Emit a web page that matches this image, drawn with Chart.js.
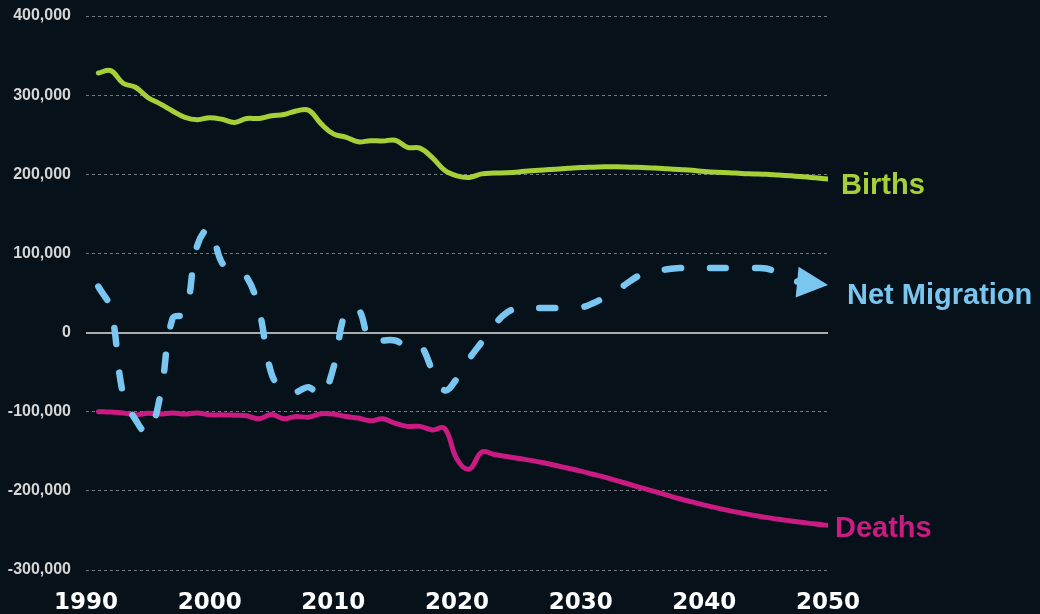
<!DOCTYPE html>
<html>
<head>
<meta charset="utf-8">
<title>Births, Deaths and Net Migration, 1991–2050</title>
<script src="https://cdn.jsdelivr.net/npm/chart.js@4.4.1/dist/chart.umd.min.js"></script>
<style>
  html, body { margin: 0; padding: 0; background: #07111a; }
  canvas { display: block; }
</style>
</head>
<body>
<canvas id="chart" width="1040" height="614"></canvas>
<script>
// Annual series, 1991–2050 (projections from the early 2020s onward)
const years = [
  1991, 1992, 1993, 1994, 1995, 1996, 1997, 1998, 1999, 2000,
  2001, 2002, 2003, 2004, 2005, 2006, 2007, 2008, 2009, 2010,
  2011, 2012, 2013, 2014, 2015, 2016, 2017, 2018, 2019, 2020,
  2021, 2022, 2023, 2024, 2025, 2026, 2027, 2028, 2029, 2030,
  2031, 2032, 2033, 2034, 2035, 2036, 2037, 2038, 2039, 2040,
  2041, 2042, 2043, 2044, 2045, 2046, 2047, 2048, 2049, 2050
];

const births = [
  328000, 331000, 315000, 310000, 297000, 289000, 280000, 272000, 269000, 271500,
  269500, 265500, 270500, 270500, 274000, 275500, 280000, 281000, 264000, 251000,
  247000, 241000, 242500, 242000, 243000, 234000, 233000, 221000, 205000, 198000,
  196000, 200500, 201500, 202000, 203000, 204500, 205500, 206500, 207500, 208500,
  209000, 209500, 209500, 209000, 208500, 208000, 207000, 206000, 205000, 203500,
  202500, 202000, 201000, 200500, 200000, 199000, 198000, 197000, 195500, 194000
];

const deaths = [
  -100000, -100500, -101500, -104000, -102000, -103000, -101500, -103000, -101500, -104000,
  -104000, -104500, -105000, -109000, -103500, -109000, -106000, -107000, -102500, -103000,
  -106000, -108000, -111500, -109000, -114500, -118500, -118500, -123000, -121000, -160000,
  -172500, -151000, -154000, -156500, -159000, -161500, -164500, -168000, -171500, -175000,
  -179000, -183000, -187500, -192000, -196500, -201000, -205500, -210000, -214000, -218000,
  -221500, -225000, -228000, -231000, -233500, -236000, -238000, -240000, -242000, -243500
];

const netMigration = [
  58000, 30000, -78000, -110000, -127000, -80000, 18000, 24000, 110000, 131000,
  88000, 78000, 70000, 28000, -52000, -73000, -75000, -69000, -80000, -45000,
  26000, 30000, -12000, -10000, -10000, -18000, -16000, -47000, -73000, -58000,
  -33000, -12000, 9000, 25000, 31000, 31000, 31000, 31000, 31000, 31500,
  37000, 45000, 54000, 65000, 74000, 77000, 80000, 81500, 81500, 81500,
  81500, 81500, 81500, 81500, 81000, 75000, 67000, 63000, 61000, 60000
];

const xTicks = [1990, 2000, 2010, 2020, 2030, 2040, 2050];
const yTicks = [-300000, -200000, -100000, 0, 100000, 200000, 300000, 400000];

const seriesNames = { migration: 'Net Migration', births: 'Births', deaths: 'Deaths' };

const COLORS = {
  bg: '#07111a',
  births: '#a6cf38',
  migration: '#79c6f1',
  deaths: '#c91b82',
  grid: '#727a80',
  zero: '#a9abad',
  yTick: '#d6d6d6',
  xTick: '#ffffff'
};

const toPoints = vals => years.map((yr, i) => ({ x: yr, y: vals[i] }));
const lastIdx = years.length - 1;

// Fill the canvas background
const backgroundPlugin = {
  id: 'background',
  beforeDraw(chart) {
    const { ctx, width, height } = chart;
    ctx.save();
    ctx.fillStyle = COLORS.bg;
    ctx.fillRect(0, 0, width, height);
    ctx.restore();
  }
};

// Solid baseline at zero
const zeroLinePlugin = {
  id: 'zeroLine',
  beforeDatasetsDraw(chart) {
    const { ctx, chartArea, scales } = chart;
    const y = Math.round(scales.y.getPixelForValue(0));
    ctx.save();
    ctx.strokeStyle = COLORS.zero;
    ctx.lineWidth = 2;
    ctx.beginPath();
    ctx.moveTo(chartArea.left, y);
    ctx.lineTo(chartArea.right, y);
    ctx.stroke();
    ctx.restore();
  }
};

// Arrowhead at the end of the net-migration line
const arrowPlugin = {
  id: 'arrowHead',
  afterDatasetsDraw(chart) {
    const idx = chart.data.datasets.findIndex(d => d.key === 'migration');
    const meta = chart.getDatasetMeta(idx);
    const tip = meta.data[lastIdx];
    const from = meta.data[lastIdx - 2];
    let dx = tip.x - from.x, dy = tip.y - from.y;
    const len = Math.hypot(dx, dy);
    dx /= len; dy /= len;
    const L = 31, H = 15.5;
    const bx = tip.x - dx * L, by = tip.y - dy * L;
    const { ctx } = chart;
    ctx.save();
    ctx.fillStyle = COLORS.migration;
    ctx.beginPath();
    ctx.moveTo(tip.x, tip.y);
    ctx.lineTo(bx - dy * H, by + dx * H);
    ctx.lineTo(bx + dy * H, by - dx * H);
    ctx.closePath();
    ctx.fill();
    ctx.restore();
  }
};

// Series names next to the line ends
const endLabelPlugin = {
  id: 'endLabels',
  afterDatasetsDraw(chart) {
    const { ctx } = chart;
    const offsets = {
      births: [13, 15],
      migration: [19, 18.5],
      deaths: [7, 12]
    };
    ctx.save();
    ctx.font = 'bold 29px "Liberation Sans", Arial, sans-serif';
    ctx.textAlign = 'left';
    ctx.textBaseline = 'alphabetic';
    chart.data.datasets.forEach((ds, i) => {
      const pt = chart.getDatasetMeta(i).data[lastIdx];
      const [ox, oy] = offsets[ds.key];
      ctx.fillStyle = ds.borderColor;
      ctx.fillText(seriesNames[ds.key], pt.x + ox, pt.y + oy);
    });
    ctx.restore();
  }
};

new Chart(document.getElementById('chart'), {
  type: 'line',
  data: {
    datasets: [
      {
        key: 'migration',
        label: seriesNames.migration,
        data: toPoints(netMigration),
        borderColor: COLORS.migration,
        borderWidth: 6.5,
        borderDash: [16, 29],
        borderCapStyle: 'round',
        borderJoinStyle: 'round',
        tension: 0.4,
        pointRadius: 0,
        segment: {
          borderColor: c => c.p0DataIndex >= lastIdx - 2 ? 'rgba(0,0,0,0)' : undefined
        }
      },
      {
        key: 'births',
        label: seriesNames.births,
        data: toPoints(births),
        borderColor: COLORS.births,
        borderWidth: 5,
        borderCapStyle: 'round',
        borderJoinStyle: 'round',
        tension: 0.4,
        pointRadius: 0
      },
      {
        key: 'deaths',
        label: seriesNames.deaths,
        data: toPoints(deaths),
        borderColor: COLORS.deaths,
        borderWidth: 5,
        borderCapStyle: 'round',
        borderJoinStyle: 'round',
        tension: 0.4,
        pointRadius: 0
      }
    ]
  },
  options: {
    responsive: false,
    animation: false,
    events: [],
    layout: { padding: { top: 16, right: 212, left: 0, bottom: 0 } },
    plugins: {
      legend: { display: false },
      tooltip: { enabled: false },
      title: { display: false }
    },
    scales: {
      x: {
        type: 'linear',
        min: 1990,
        max: 2050,
        afterBuildTicks: s => { s.ticks = xTicks.map(v => ({ value: v })); },
        afterFit: s => { s.height = 44; s.paddingLeft = 0; s.paddingRight = 0; },
        grid: { display: false, drawTicks: false },
        border: { display: false },
        ticks: {
          color: COLORS.xTick,
          padding: 19,
          maxRotation: 0,
          autoSkip: false,
          font: { family: '"DejaVu Sans", sans-serif', size: 23, weight: 'bold' },
          callback: v => String(v)
        }
      },
      y: {
        type: 'linear',
        min: -300000,
        max: 400000,
        afterBuildTicks: s => { s.ticks = yTicks.map(v => ({ value: v })); },
        afterFit: s => { s.width = 86; s.paddingTop = 0; s.paddingBottom = 0; },
        grid: {
          color: c => (c.tick && c.tick.value === 0) ? 'rgba(0,0,0,0)' : COLORS.grid,
          lineWidth: 1,
          drawTicks: false
        },
        border: { display: false, dash: [3, 3] },
        ticks: {
          color: COLORS.yTick,
          padding: 15,
          autoSkip: false,
          font: { family: '"Liberation Sans", Arial, sans-serif', size: 16, weight: 'bold' },
          callback: v => v.toLocaleString('en-US')
        }
      }
    }
  },
  plugins: [backgroundPlugin, zeroLinePlugin, arrowPlugin, endLabelPlugin]
});
</script>
</body>
</html>
